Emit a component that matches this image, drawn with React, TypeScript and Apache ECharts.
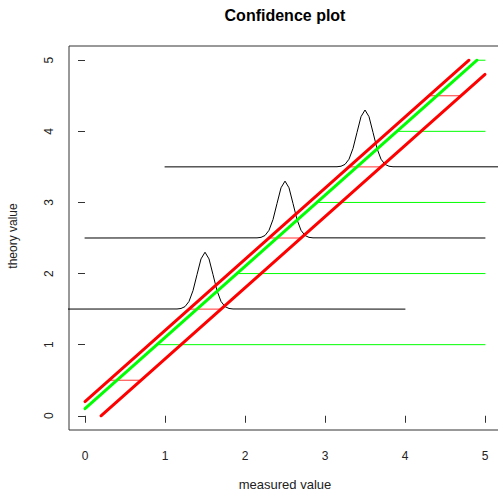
import React, { useEffect, useRef } from "react";
import * as echarts from "echarts";

// ---- data ----
const xTicks = [0, 1, 2, 3, 4, 5];
const yTicks = [0, 1, 2, 3, 4, 5];

// density curves: centre (measured value), baseline (theory value), drawn range
const densityCentres = [1.5, 2.5, 3.5];
const densityBaselines = [1.5, 2.5, 3.5];
const densityHalfRange = 2.5;
// bump profile (offset from centre, height above baseline)
const bumpOffsets = [-0.35, -0.3, -0.25, -0.2, -0.15, -0.1, -0.05, 0, 0.05, 0.1, 0.15, 0.2, 0.25, 0.3, 0.35];
const bumpHeights = [0.002, 0.009, 0.035, 0.108, 0.26, 0.485, 0.706, 0.8, 0.706, 0.485, 0.26, 0.108, 0.035, 0.009, 0.002];

// fitted line and confidence band
const fitLine = [[0, 0.1], [4.9, 5.0]];
const upperBand = [[0, 0.2], [4.8, 5.0]];
const lowerBand = [[0.2, 0], [5.0, 4.8]];

// green horizontal segments (theory levels)
const greenLevels = [1, 2, 3, 4, 5];
const greenStarts = [0.9, 1.9, 2.9, 3.9, 4.9];
const greenEnd = 5;

// red horizontal segments (band width at half levels)
const redLevels = [0.5, 1.5, 2.5, 3.5, 4.5];
const redStarts = [0.3, 1.3, 2.3, 3.3, 4.3];
const redEnds = [0.7, 1.7, 2.7, 3.7, 4.7];

const FONT = "'Liberation Sans', Arial, sans-serif";

export default function App() {
  const ref = useRef<HTMLDivElement>(null);
  useEffect(() => {
    if (!ref.current) return;
    const chart = echarts.init(ref.current, undefined, { renderer: "svg" });

    const plain = (data: number[][], color: string, width: number, z: number) => ({
      type: "line",
      data,
      showSymbol: false,
      symbol: "none",
      clip: true,
      silent: true,
      z,
      lineStyle: { color, width, cap: "round" },
    });

    const series: any[] = [];
    densityCentres.forEach((c, i) => {
      const b = densityBaselines[i];
      const pts: number[][] = [[c - densityHalfRange, b]];
      bumpOffsets.forEach((o, k) => pts.push([c + o, b + bumpHeights[k]]));
      pts.push([c + densityHalfRange, b]);
      series.push(plain(pts, "#000000", 1, 2));
    });
    greenLevels.forEach((lv, i) => {
      series.push(plain([[greenStarts[i], lv], [greenEnd, lv]], "#00ff00", 1, 3));
    });
    redLevels.forEach((lv, i) => {
      series.push(plain([[redStarts[i], lv], [redEnds[i], lv]], "#ff3333", 1, 4));
    });
    series.push(plain(fitLine, "#00ff00", 3, 5));
    series.push(plain(upperBand, "#ff0000", 3, 5));
    series.push(plain(lowerBand, "#ff0000", 3, 5));

    chart.setOption({
      animation: false,
      backgroundColor: "#ffffff",
      grid: {
        left: 69,
        top: 46,
        width: 432,
        height: 384,
        show: true,
        borderColor: "#333333",
        borderWidth: 1,
        backgroundColor: "transparent",
        outerBoundsMode: "none",
        containLabel: false,
      },
      xAxis: {
        type: "value",
        min: -0.2,
        max: 5.2,
        axisLine: { show: false },
        splitLine: { show: false },
        axisTick: {
          show: true,
          length: 7,
          customValues: xTicks,
          lineStyle: { color: "#333333", width: 1 },
        },
        axisLabel: {
          customValues: xTicks,
          margin: 20,
          fontFamily: FONT,
          fontSize: 12,
          color: "#222222",
        },
      },
      yAxis: {
        type: "value",
        min: -0.2,
        max: 5.2,
        axisLine: { show: false },
        splitLine: { show: false },
        axisTick: {
          show: true,
          length: 7,
          customValues: yTicks,
          lineStyle: { color: "#333333", width: 1 },
        },
        axisLabel: {
          customValues: yTicks,
          rotate: 90,
          margin: 14,
          fontFamily: FONT,
          fontSize: 12,
          color: "#222222",
        },
      },
      graphic: [
        {
          type: "text",
          x: 285,
          y: 15,
          style: {
            text: "Confidence plot",
            fontFamily: FONT,
            fontSize: 16,
            fontWeight: "bold",
            fill: "#000000",
            align: "center",
            verticalAlign: "middle",
          },
        },
        {
          type: "text",
          x: 285,
          y: 484,
          style: {
            text: "measured value",
            fontFamily: FONT,
            fontSize: 13,
            fill: "#222222",
            align: "center",
            verticalAlign: "middle",
          },
        },
        {
          type: "text",
          x: 13,
          y: 236,
          rotation: Math.PI / 2,
          style: {
            text: "theory value",
            fontFamily: FONT,
            fontSize: 12,
            fill: "#222222",
            align: "center",
            verticalAlign: "middle",
          },
        },
      ],
      series,
    });
    return () => chart.dispose();
  }, []);
  return (
    <div
      ref={ref}
      style={{ position: "absolute", left: 0, top: 0, width: 498, height: 492 }}
    />
  );
}
